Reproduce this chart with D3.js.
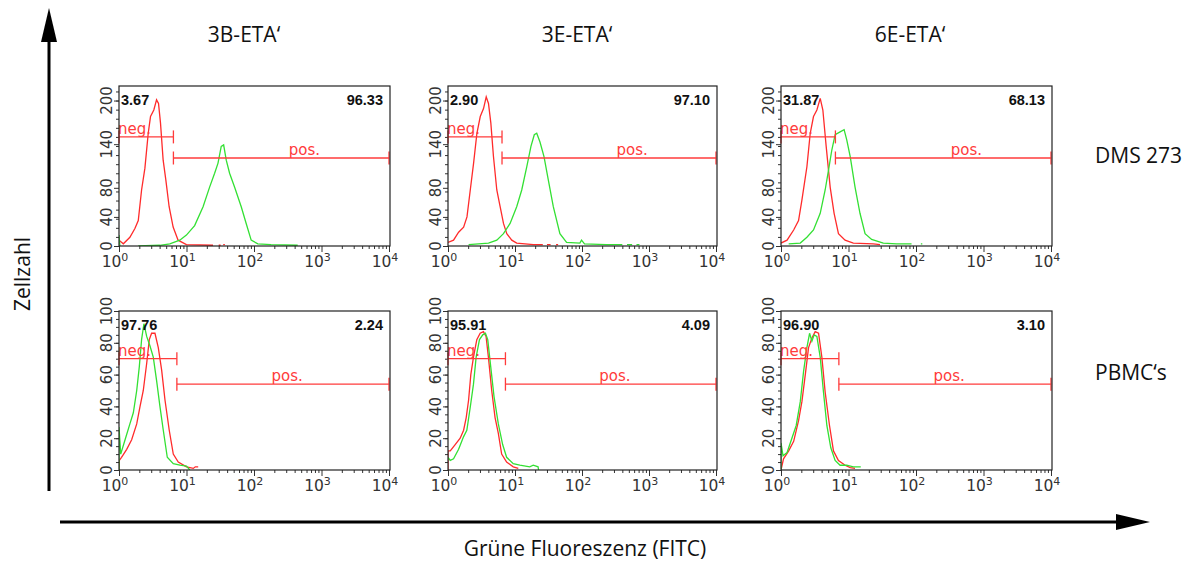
<!DOCTYPE html>
<html>
<head>
<meta charset="utf-8">
<script src="https://cdn.jsdelivr.net/npm/d3@7"></script>
<style>
  body { margin: 0; background: #fff; }
  svg { display: block; }
</style>
</head>
<body>
<svg id="chart" width="1195" height="561"></svg>
<script>
// sample names (columns) and cell lines (rows)
var columns = ["3B-ETA‘", "3E-ETA‘", "6E-ETA‘"];
var rowLabels = ["DMS 273", "PBMC‘s"];

// gate percentages [row][col]
var negPercent = [["3.67", "2.90", "31.87"], ["97.76", "95.91", "96.90"]];
var posPercent = [["96.33", "97.10", "68.13"], ["2.24", "4.09", "3.10"]];

// axes
var xTicks = [1, 10, 100, 1000, 10000];
var yTicks = [[0, 40, 80, 140, 200], [0, 20, 40, 60, 80, 100]];
var yMinorStep = [12.5, 5];
var yMax = [220, 100];

// gates per row: split point, y level of neg / pos markers, x of "pos." label
var gateSplit = [6.4, 7.2];
var negGateY = [150, 70];
var posGateY = [121, 54];
var posLabelX = [560, 310];

// histograms [fluorescence, count], null = gap
var red_DMS_3B = [[1,8],[1.16,3],[1.45,12],[1.72,24],[1.93,35],[2.16,77],[2.42,107],[2.71,155],[2.93,178],[3.28,187],[3.6,201],[3.85,196],[4.12,169],[4.51,118],[4.94,91],[5.53,54],[6.34,26],[7.51,8],[9.97,2],[24.7,1],null,[30,1],[32,1],null,[35,2],[37,2]];
var green_DMS_3B = [[1,15],[1.03,0],null,[1.93,0],[4.03,1],[5.66,3],[7.95,8],[9.97,15],[13.2,28],[17.6,54],[22,81],[26.1,100],[29.3,114],[32.7,137],[35.5,139],[38.8,118],[43.5,100],[51.5,81],[64.7,54],[76.6,31],[90.8,8],[114,3],[179,2],[444,1]];

var red_DMS_3E = [[1,5],[1.21,8],[1.44,19],[1.71,26],[1.92,40],[2.15,77],[2.41,114],[2.7,155],[3.03,178],[3.39,189],[3.72,205],[4.02,196],[4.36,169],[4.77,123],[5.35,77],[6,54],[6.73,31],[7.54,17],[8.95,8],[10.6,4],[18.8,2],[26,2],null,[30,2],[34,2],null,[41,2],[44,2]];
var green_DMS_3E = [[2.03,2],[4.02,4],[5.35,8],[6.73,17],[8.45,31],[10.6,54],[12.6,77],[15,109],[17.3,137],[19.4,153],[21.1,155],[23.6,143],[27.1,123],[31.4,91],[37.3,54],[46.8,17],[58.9,5],[92.9,4],[98.4,8],[109,3],[231,2],[400,2],null,[470,2],[560,2],null,[650,2],[720,2]];

var red_DMS_6E = [[1,4],[1.23,8],[1.54,22],[1.82,35],[2.04,63],[2.42,109],[2.71,155],[3.03,178],[3.4,187],[3.81,203],[4.17,187],[4.67,137],[5.35,81],[6.12,45],[7.1,17],[8.9,8],[11.8,4],[23.3,3],[29.3,2]];
var green_DMS_6E = [[1.3,3],[1.93,4],[2.42,12],[3.03,22],[3.81,45],[4.51,77],[5.05,104],[5.66,132],[6.34,153],[7.51,157],[8.61,160],[9.42,146],[10.6,123],[12.5,81],[14.8,45],[17.6,17],[22,9],[32.8,4],[51.5,3],[85.9,3],null,[118,3],[124,3]];

var red_PBMC_3B = [[1,0],[1.01,6],[1.09,8],[1.3,13],[1.54,19],[1.83,29],[2.05,40],[2.29,50],[2.57,67],[2.81,82],[3.04,86],[3.41,86],[3.82,77],[4.28,63],[4.8,44],[5.55,25],[6.37,10],[7.55,5],[10,2],[12.6,1],[13.5,2],[14.9,2]];
var green_PBMC_3B = [[1,0],[1,27],[1.06,10],[1.23,19],[1.45,29],[1.63,36],[1.83,50],[2,65],[2.16,82],[2.34,92],[2.57,84],[2.88,78],[3.22,71],[3.61,56],[4.04,40],[4.53,25],[5.19,8],[6.37,4],[8,3],[10,2.5],[11.2,0]];

var red_PBMC_3E = [[1,0],[1,12],[1.08,12],[1.28,16],[1.52,20],[1.71,25],[1.87,33],[2.03,44],[2.19,60],[2.4,71],[2.69,82],[3.02,86],[3.38,87],[3.7,84],[4.01,71],[4.49,50],[5.04,33],[5.64,23],[6.32,10],[7.5,5],[9.42,2],[11.2,1]];
var green_PBMC_3E = [[1,8],[1.08,6],[1.21,7],[1.44,13],[1.71,21],[1.91,25],[2.14,39],[2.4,54],[2.63,71],[2.95,82],[3.3,85],[3.62,86],[3.92,82],[4.34,65],[4.87,46],[5.64,29],[6.54,16],[7.5,8],[9.42,4],[11.8,3],[16.6,2],[18.7,3],[22.1,2],[22.5,0]];

var red_PBMC_6E = [[1,0],[1.09,7],[1.3,12],[1.54,18],[1.82,31],[2.04,43],[2.29,60],[2.56,77],[2.87,83],[3.21,87],[3.6,86],[4.03,71],[4.51,49],[5.23,28],[5.99,12],[7.1,6],[8.91,3],[10.6,1.5],[12.5,1]];
var green_PBMC_6E = [[1,0],[1,17],[1.07,9],[1.23,11],[1.45,20],[1.68,28],[1.93,43],[2.16,62],[2.42,77],[2.65,86],[2.87,81],[3.1,85],[3.4,84],[3.81,71],[4.26,49],[4.78,28],[5.47,14],[6.34,6],[7.51,3],[9.42,3],[11.8,2],[15.2,2]];

var redCurves = [[red_DMS_3B, red_DMS_3E, red_DMS_6E], [red_PBMC_3B, red_PBMC_3E, red_PBMC_6E]];
var greenCurves = [[green_DMS_3B, green_DMS_3E, green_DMS_6E], [green_PBMC_3B, green_PBMC_3E, green_PBMC_6E]];

// layout
var COL_X = [119, 448, 781];
var COL_W = [271, 269, 271];
var ROW_TOP = [86, 311];
var ROW_BOTTOM = [246, 470];
var COL_TITLE_X = [244, 577, 910];
var ROW_LABEL_Y = [163, 380];
var RED = "#ff2b2b";
var GATE = "#ff3b3b";
var GREEN = "#33e033";
var TEXT_FONT = "'Open Sans', sans-serif";
var AXIS_FONT = "'DejaVu Sans', Verdana, sans-serif";

var svg = d3.select("#chart");
svg.append("rect").attr("width", 1195).attr("height", 561).attr("fill", "#fff");

// big axis arrows
svg.append("line").attr("x1", 49).attr("y1", 491).attr("x2", 49).attr("y2", 36)
  .attr("stroke", "#000").attr("stroke-width", 3);
svg.append("polygon").attr("points", "49,8 41,42 57,42").attr("fill", "#000");
svg.append("line").attr("x1", 60).attr("y1", 522).attr("x2", 1122).attr("y2", 522)
  .attr("stroke", "#000").attr("stroke-width", 3);
svg.append("polygon").attr("points", "1150,522 1116,514 1116,530").attr("fill", "#000");

svg.append("text").attr("transform", "translate(30,274) rotate(-90)")
  .attr("text-anchor", "middle").attr("font-family", TEXT_FONT).attr("font-size", 21)
  .attr("fill", "#111").text("Zellzahl");
svg.append("text").attr("x", 585).attr("y", 556)
  .attr("text-anchor", "middle").attr("font-family", TEXT_FONT).attr("font-size", 21)
  .attr("fill", "#111").text("Grüne Fluoreszenz (FITC)");

columns.forEach(function(c, i) {
  svg.append("text").attr("x", COL_TITLE_X[i]).attr("y", 42)
    .attr("text-anchor", "middle").attr("font-family", TEXT_FONT).attr("font-size", 21)
    .attr("fill", "#111").text(c);
});
rowLabels.forEach(function(r, i) {
  svg.append("text").attr("x", 1095).attr("y", ROW_LABEL_Y[i])
    .attr("font-family", TEXT_FONT).attr("font-size", 21)
    .attr("fill", "#111").text(r);
});

var minorX = [];
for (var d = 1; d < 10000; d *= 10) {
  for (var k = 2; k <= 9; ++k) minorX.push(d * k);
}

var drawPanel = function(row, col) {
  var x0 = COL_X[col], x1 = COL_X[col] + COL_W[col];
  var top = ROW_TOP[row], bottom = ROW_BOTTOM[row];
  var x = d3.scaleLog().domain([1, 10000]).range([x0, x1 - 1]);
  var y = d3.scaleLinear().domain([0, yMax[row]]).range([bottom, top]);
  var g = svg.append("g");
  var clipId = "clip" + row + col;

  g.append("clipPath").attr("id", clipId).append("rect")
    .attr("x", x0).attr("y", top).attr("width", x1 - x0).attr("height", bottom - top);

  // x axis ticks
  var xMinorAxis = d3.axisBottom(x).tickValues(minorX).tickSize(3).tickFormat("");
  var xMajorAxis = d3.axisBottom(x).tickValues(xTicks).tickSize(6).tickFormat("");
  [xMinorAxis, xMajorAxis].forEach(function(ax) {
    var a = g.append("g").attr("transform", "translate(0," + bottom + ")").call(ax);
    a.select(".domain").remove();
    a.selectAll("line").attr("stroke", "#333");
  });
  xTicks.forEach(function(v) {
    var t = g.append("text").attr("x", x(v) - 4).attr("y", bottom + 21)
      .attr("text-anchor", "middle").attr("font-family", AXIS_FONT).attr("font-size", 15.5)
      .attr("fill", "#333");
    t.append("tspan").text("10");
    t.append("tspan").attr("dy", -6.5).attr("font-size", 11).text(Math.round(Math.log10(v)));
  });

  // y axis ticks
  var yMinor = d3.range(0, yMax[row] + 0.01, yMinorStep[row]);
  var yMinorAxis = d3.axisLeft(y).tickValues(yMinor).tickSize(3).tickFormat("");
  var yMajorAxis = d3.axisLeft(y).tickValues(yTicks[row]).tickSize(5).tickFormat("");
  [yMinorAxis, yMajorAxis].forEach(function(ax) {
    var a = g.append("g").attr("transform", "translate(" + x0 + ",0)").call(ax);
    a.select(".domain").remove();
    a.selectAll("line").attr("stroke", "#333");
  });
  yTicks[row].forEach(function(v) {
    g.append("text").attr("transform", "translate(" + (x0 - 7.5) + "," + y(v) + ") rotate(-90)")
      .attr("text-anchor", "middle").attr("font-family", AXIS_FONT).attr("font-size", 15)
      .attr("fill", "#333").text(v);
  });

  // histograms
  var line = d3.line()
    .defined(function(p) { return p !== null; })
    .x(function(p) { return x(p[0]); })
    .y(function(p) { return y(p[1]); });
  g.append("path").datum(redCurves[row][col]).attr("d", line)
    .attr("fill", "none").attr("stroke", RED).attr("stroke-width", 1.3)
    .attr("clip-path", "url(#" + clipId + ")");
  g.append("path").datum(greenCurves[row][col]).attr("d", line)
    .attr("fill", "none").attr("stroke", GREEN).attr("stroke-width", 1.3)
    .attr("clip-path", "url(#" + clipId + ")");

  // gates
  var gates = [
    { from: 1, to: gateSplit[row], level: negGateY[row] },
    { from: gateSplit[row], to: 10000, level: posGateY[row] }
  ];
  gates.forEach(function(gt) {
    var gy = y(gt.level);
    g.append("line").attr("x1", x(gt.from)).attr("x2", x(gt.to)).attr("y1", gy).attr("y2", gy)
      .attr("stroke", GATE).attr("stroke-width", 1.3);
    [gt.from, gt.to].forEach(function(v) {
      g.append("line").attr("x1", x(v)).attr("x2", x(v)).attr("y1", gy - 6.5).attr("y2", gy + 6.5)
        .attr("stroke", GATE).attr("stroke-width", 1.3);
    });
  });
  g.append("text").attr("x", x0 - 1).attr("y", y(negGateY[row]) - 2.5)
    .attr("font-family", AXIS_FONT).attr("font-size", 15).attr("fill", GATE).text("neg.");
  g.append("text").attr("x", x(posLabelX[row])).attr("y", y(posGateY[row]) - 3.5)
    .attr("text-anchor", "middle").attr("font-family", AXIS_FONT).attr("font-size", 15)
    .attr("fill", GATE).text("pos.");

  // box
  g.append("rect").attr("x", x0).attr("y", top).attr("width", x1 - x0).attr("height", bottom - top)
    .attr("fill", "none").attr("stroke", "#222").attr("stroke-width", 1.2);

  // percentages
  g.append("text").attr("x", x0 + 2).attr("y", top + 19)
    .attr("font-family", "'Liberation Sans', Arial, sans-serif").attr("font-weight", "bold")
    .attr("font-size", 14.5).attr("fill", "#111").text(negPercent[row][col]);
  g.append("text").attr("x", x1 - 7).attr("y", top + 19).attr("text-anchor", "end")
    .attr("font-family", "'Liberation Sans', Arial, sans-serif").attr("font-weight", "bold")
    .attr("font-size", 14.5).attr("fill", "#111").text(posPercent[row][col]);
};

for (var r = 0; r < rowLabels.length; ++r) {
  for (var c = 0; c < columns.length; ++c) {
    drawPanel(r, c);
  }
}
</script>
</body>
</html>
